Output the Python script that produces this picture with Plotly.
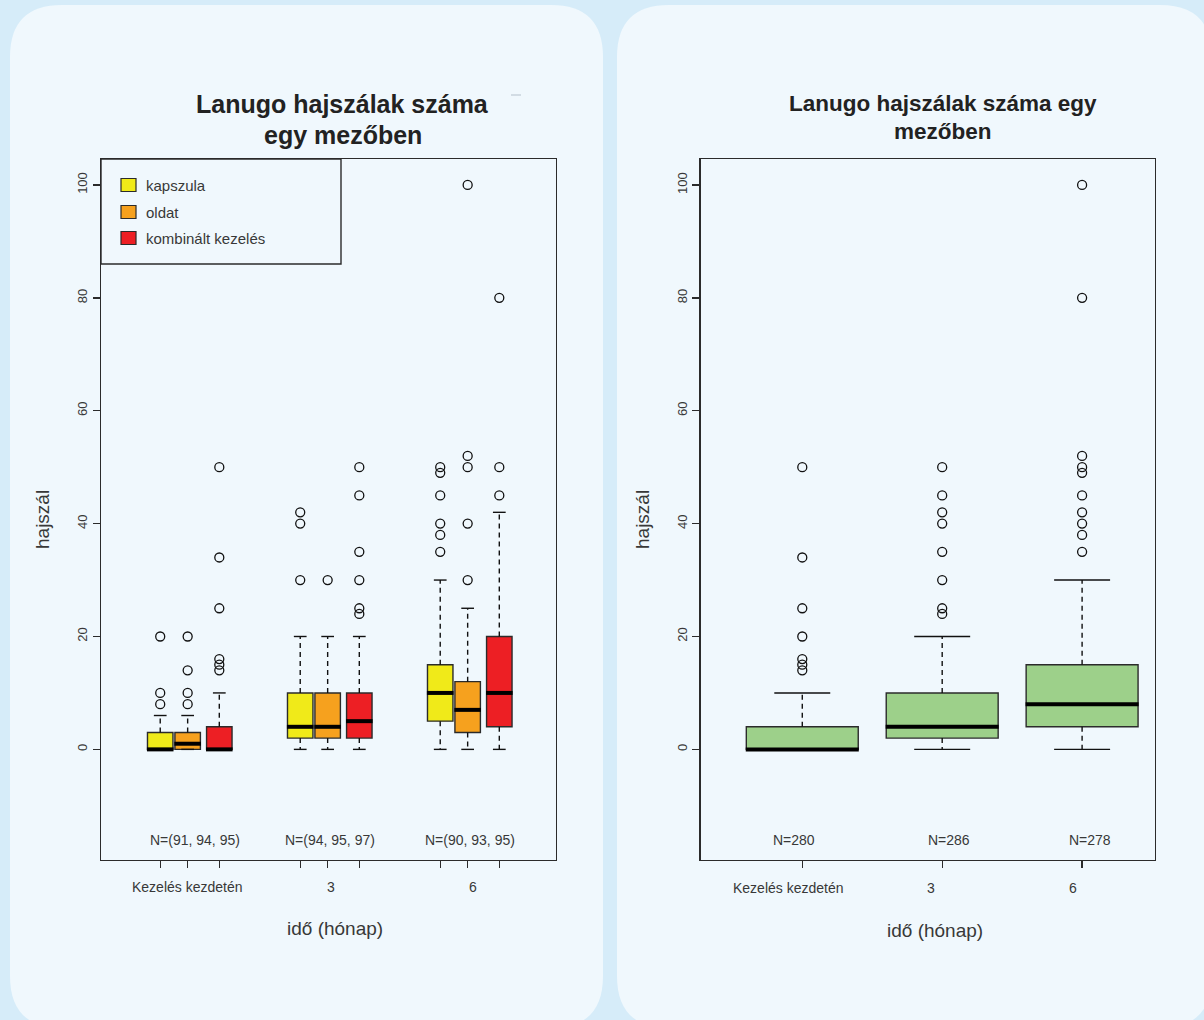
import plotly.graph_objects as go

# ---------------- data ----------------
groups = ["Kezelés kezdetén", "3", "6"]
series = ["kapszula", "oldat", "kombinált kezelés"]
series_colors = ["#F0EA19", "#F6A11E", "#ED1F24"]

kapszula_q1 = [0, 2, 5]
kapszula_med = [0, 4, 10]
kapszula_q3 = [3, 10, 15]
kapszula_lo = [0, 0, 0]
kapszula_hi = [6, 20, 30]
kapszula_out = [[8, 10, 20], [30, 40, 42], [35, 38, 40, 45, 49, 50]]

oldat_q1 = [0, 2, 3]
oldat_med = [1, 4, 7]
oldat_q3 = [3, 10, 12]
oldat_lo = [0, 0, 0]
oldat_hi = [6, 20, 25]
oldat_out = [[8, 10, 14, 20], [30], [30, 40, 50, 52, 100]]

komb_q1 = [0, 2, 4]
komb_med = [0, 5, 10]
komb_q3 = [4, 10, 20]
komb_lo = [0, 0, 0]
komb_hi = [10, 20, 42]
komb_out = [[14, 15, 16, 25, 34, 50], [24, 25, 30, 35, 45, 50], [45, 50, 80]]

n_left = ["N=(91, 94, 95)", "N=(94, 95, 97)", "N=(90, 93, 95)"]

tot_q1 = [0, 2, 4]
tot_med = [0, 4, 8]
tot_q3 = [4, 10, 15]
tot_lo = [0, 0, 0]
tot_hi = [10, 20, 30]
tot_out = [[14, 15, 16, 20, 25, 34, 50],
           [24, 25, 30, 35, 40, 42, 45, 50],
           [35, 38, 40, 42, 45, 49, 50, 52, 80, 100]]
n_right = ["N=280", "N=286", "N=278"]
tot_color = "#9DD08A"

y_ticks = [0, 20, 40, 60, 80, 100]

# ---------------- layout helpers ----------------
W, H = 1204, 1020
def X(px): return px / W
def Y(py): return 1 - py / H

FONT = "Liberation Sans, Arial, Helvetica, sans-serif"
TXT = "#383838"
FRAME = "#2b2b2b"

group_pos = [1, 2, 3]
left_offsets = [-0.196, 0.0, 0.226]
left_w = 0.182
right_w = 0.8

fig = go.Figure()

def add_boxes(xs, q1, med, q3, lo, hi, outs, color, width, xa, ya):
    fig.add_trace(go.Bar(
        x=xs, y=[b - a for a, b in zip(q1, q3)], base=q1, width=[width] * len(xs),
        marker=dict(color=color, line=dict(color=FRAME, width=1.4)),
        xaxis=xa, yaxis=ya, showlegend=False, hoverinfo="skip"))
    wx, wy, cx, cy, mx, my = [], [], [], [], [], []
    for x, a, m, b, l, h in zip(xs, q1, med, q3, lo, hi):
        wx += [x, x, None, x, x, None]
        wy += [b, h, None, a, l, None]
        cx += [x - width / 4, x + width / 4, None, x - width / 4, x + width / 4, None]
        cy += [h, h, None, l, l, None]
        mx += [x - width / 2 - 0.004, x + width / 2 + 0.004, None]
        my += [m, m, None]
    fig.add_trace(go.Scatter(x=wx, y=wy, mode="lines", xaxis=xa, yaxis=ya,
                             line=dict(color="#111111", width=1.4, dash="5px,4px"),
                             showlegend=False, hoverinfo="skip"))
    fig.add_trace(go.Scatter(x=cx, y=cy, mode="lines", xaxis=xa, yaxis=ya,
                             line=dict(color="#111111", width=1.4),
                             showlegend=False, hoverinfo="skip"))
    fig.add_trace(go.Scatter(x=mx, y=my, mode="lines", xaxis=xa, yaxis=ya,
                             line=dict(color="#000000", width=4),
                             showlegend=False, hoverinfo="skip"))
    ox, oy = [], []
    for x, o in zip(xs, outs):
        ox += [x] * len(o)
        oy += o
    fig.add_trace(go.Scatter(x=ox, y=oy, mode="markers", xaxis=xa, yaxis=ya,
                             marker=dict(symbol="circle-open", size=9, color="#111111",
                                         line=dict(width=1.3)),
                             showlegend=False, hoverinfo="skip"))

left_data = [
    (kapszula_q1, kapszula_med, kapszula_q3, kapszula_lo, kapszula_hi, kapszula_out),
    (oldat_q1, oldat_med, oldat_q3, oldat_lo, oldat_hi, oldat_out),
    (komb_q1, komb_med, komb_q3, komb_lo, komb_hi, komb_out),
]
left_ticks = []
for k, d in enumerate(left_data):
    xs = [g + left_offsets[k] for g in group_pos]
    left_ticks += xs
    add_boxes(xs, *d, series_colors[k], left_w, "x", "y")

add_boxes(group_pos, tot_q1, tot_med, tot_q3, tot_lo, tot_hi, tot_out, tot_color, right_w, "x2", "y2")

# ---------------- axes ----------------
ydom = [Y(860), Y(159)]
yrange = [-19.6, 104.6]
common_y = dict(range=yrange, domain=ydom, tickvals=y_ticks, ticktext=[str(v) for v in y_ticks],
                tickangle=-90, ticks="outside", ticklen=7, tickwidth=1.3, tickcolor=FRAME,
                tickfont=dict(family=FONT, size=13, color=TXT), showgrid=False, zeroline=False,
                showline=True, mirror=True, linecolor=FRAME, linewidth=1.4, fixedrange=True)
common_x = dict(ticks="outside", ticklen=7, tickwidth=1.3, tickcolor=FRAME, showgrid=False,
                zeroline=False, showline=True, mirror=True, linecolor=FRAME, linewidth=1.4,
                fixedrange=True)

fig.update_layout(
    width=W, height=H, margin=dict(l=0, r=0, t=0, b=0),
    paper_bgcolor="#D6ECF9", plot_bgcolor="rgba(0,0,0,0)",
    barmode="overlay", showlegend=False,
    xaxis=dict(domain=[X(101), X(556)], range=[0.381, 3.631], tickvals=sorted(left_ticks),
               ticktext=[""] * len(left_ticks), anchor="y", **common_x),
    yaxis=dict(anchor="x", **common_y),
    xaxis2=dict(domain=[X(700.7), X(1155)], range=[0.274, 3.521], tickvals=group_pos,
                ticktext=[""] * 3, anchor="y2", **common_x),
    yaxis2=dict(anchor="x2", **common_y),
)

# ---------------- cards ----------------
def rounded(x0, y0, x1, y1, r):
    return (f"M {X(x0 + r)},{Y(y0)} L {X(x1 - r)},{Y(y0)} Q {X(x1)},{Y(y0)} {X(x1)},{Y(y0 + r)} "
            f"L {X(x1)},{Y(y1 - r)} Q {X(x1)},{Y(y1)} {X(x1 - r)},{Y(y1)} "
            f"L {X(x0 + r)},{Y(y1)} Q {X(x0)},{Y(y1)} {X(x0)},{Y(y1 - r)} "
            f"L {X(x0)},{Y(y0 + r)} Q {X(x0)},{Y(y0)} {X(x0 + r)},{Y(y0)} Z")

shapes = [
    dict(type="path", xref="paper", yref="paper", path=rounded(10, 5, 603, 1028, 52),
         fillcolor="#F0F8FD", line=dict(width=0), layer="below"),
    dict(type="path", xref="paper", yref="paper", path=rounded(617, 5, 1212, 1028, 52),
         fillcolor="#F0F8FD", line=dict(width=0), layer="below"),
    # legend frame
    dict(type="rect", xref="paper", yref="paper", x0=X(101), x1=X(341), y0=Y(264), y1=Y(159),
         line=dict(color=FRAME, width=1.4), fillcolor="#F0F8FD", layer="above"),
    # small stray mark near title
    dict(type="line", xref="paper", yref="paper", x0=X(511), x1=X(521), y0=Y(95), y1=Y(95),
         line=dict(color="#C9D3DB", width=1.5)),
]
leg_y = [185, 212, 238]
for k in range(3):
    shapes.append(dict(type="rect", xref="paper", yref="paper",
                       x0=X(121), x1=X(136), y0=Y(leg_y[k] + 6.5), y1=Y(leg_y[k] - 6.5),
                       fillcolor=series_colors[k], line=dict(color=FRAME, width=1.2), layer="above"))
fig.update_layout(shapes=shapes)

ann = []
def text(x, y, s, size, bold=False, angle=0, xanchor="center", color=TXT):
    ann.append(dict(x=X(x), y=Y(y), xref="paper", yref="paper", text=f"<b>{s}</b>" if bold else s,
                    showarrow=False, textangle=angle, xanchor=xanchor, yanchor="middle",
                    font=dict(family=FONT, size=size, color=color)))

for k in range(3):
    text(144, leg_y[k], series[k], 15, xanchor="left")

# titles
text(342.5, 104, "Lanugo hajszálak száma", 25, bold=True, color="#222222")
text(342.5, 135, "egy mezőben", 25, bold=True, color="#222222")
text(943, 104, "Lanugo hajszálak száma egy", 22.5, bold=True, color="#222222")
text(943, 131, "mezőben", 22.5, bold=True, color="#222222")

# axis titles
text(42, 520, "hajszál", 19, angle=-90)
text(642, 520, "hajszál", 19, angle=-90)
text(335, 928, "idő (hónap)", 19)
text(935, 930, "idő (hónap)", 19)

# group labels and N labels
left_lab_x = [187.8, 330.7, 473.3]
right_lab_x = [788.3, 931, 1073.3]
left_n_x = [194.5, 329.5, 469.5]
right_n_x = [794.2, 949, 1089.5]
for k in range(3):
    text(left_lab_x[k], 887, groups[k], 14)
    text(right_lab_x[k], 888, groups[k], 14)
    text(left_n_x[k], 840, n_left[k], 14)
    text(right_n_x[k], 840, n_right[k], 14)

fig.update_layout(annotations=ann)

fig.write_html("out.html", config={"displayModeBar": False, "staticPlot": True},
               post_script="document.body.style.margin='0';document.body.style.overflow='hidden';")
